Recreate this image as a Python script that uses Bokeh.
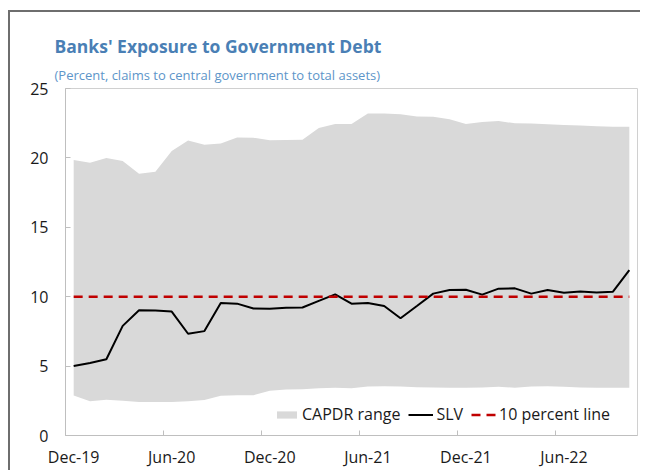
from bokeh.plotting import figure
from bokeh.layouts import column, row
from bokeh.models import Range1d, FixedTicker, Legend, LegendItem, Title, Spacer
from bokeh.embed import file_html
from bokeh.resources import INLINE

months = ["Dec-19", "Jan-20", "Feb-20", "Mar-20", "Apr-20", "May-20", "Jun-20",
          "Jul-20", "Aug-20", "Sep-20", "Oct-20", "Nov-20", "Dec-20",
          "Jan-21", "Feb-21", "Mar-21", "Apr-21", "May-21", "Jun-21",
          "Jul-21", "Aug-21", "Sep-21", "Oct-21", "Nov-21", "Dec-21",
          "Jan-22", "Feb-22", "Mar-22", "Apr-22", "May-22", "Jun-22",
          "Jul-22", "Aug-22", "Sep-22", "Oct-22"]

capdr_low = [2.89, 2.46, 2.58, 2.50, 2.41, 2.41, 2.41, 2.46, 2.55, 2.86, 2.90, 2.90,
             3.22, 3.32, 3.34, 3.41, 3.44, 3.41, 3.53, 3.55, 3.53, 3.48, 3.46, 3.44,
             3.44, 3.46, 3.51, 3.44, 3.53, 3.55, 3.51, 3.46, 3.44, 3.44, 3.44]

capdr_high = [19.84, 19.65, 20.00, 19.77, 18.86, 19.00, 20.49, 21.25, 20.94, 21.04, 21.47, 21.45,
              21.27, 21.29, 21.31, 22.16, 22.44, 22.44, 23.19, 23.19, 23.14, 22.99, 22.97, 22.78,
              22.44, 22.59, 22.66, 22.49, 22.47, 22.42, 22.37, 22.33, 22.28, 22.25, 22.25]

slv = [5.00, 5.23, 5.49, 7.90, 9.03, 9.00, 8.93, 7.33, 7.52, 9.55, 9.50, 9.15,
       9.13, 9.20, 9.22, 9.70, 10.17, 9.50, 9.55, 9.33, 8.45, 9.33, 10.22, 10.48,
       10.50, 10.15, 10.58, 10.60, 10.22, 10.48, 10.29, 10.38, 10.31, 10.36, 11.92]

threshold = 10
y_ticks = [0, 5, 10, 15, 20, 25]
label_every = 6

FONT = "Open Sans"
GREY_AX = "#bfbfbf"
EDGE = "#6e6e6e"

x = list(range(len(months)))
thr_line = [threshold] * len(months)

p = figure(width=630, height=458, output_backend="svg", toolbar_location=None,
           x_range=Range1d(-0.5, len(months) - 0.5), y_range=Range1d(0, 25),
           min_border_left=55, min_border_right=3, min_border_top=76, min_border_bottom=33)
p.background_fill_color = "white"
p.border_fill_color = "white"
p.outline_line_color = "#d0d0d0"
p.grid.visible = False

r_area = p.varea(x=x, y1=capdr_low, y2=capdr_high, fill_color="#d9d9d9")
r_slv = p.line(x, slv, line_color="black", line_width=2)
r_thr = p.line(x, thr_line, line_color="#c00000", line_width=2.5, line_dash="9 6")

label_idx = list(range(0, len(months), label_every))
minor_pos = [i - 0.5 for i in label_idx[1:]]
xa = p.xaxis[0]
xa.ticker = FixedTicker(ticks=label_idx, minor_ticks=minor_pos)
xa.major_label_overrides = {i: months[i] for i in label_idx}
xa.major_tick_line_color = None
xa.major_tick_in = 0
xa.major_tick_out = 0
xa.minor_tick_in = 5
xa.minor_tick_out = 0
xa.minor_tick_line_color = GREY_AX
xa.axis_line_color = GREY_AX
xa.major_label_text_font = FONT
xa.major_label_text_font_size = "16px"
xa.major_label_text_color = "#1a1a1a"
xa.major_label_standoff = 10

ya = p.yaxis[0]
ya.ticker = FixedTicker(ticks=y_ticks)
ya.major_tick_in = 5
ya.major_tick_out = 0
ya.major_tick_line_color = GREY_AX
ya.minor_tick_line_color = None
ya.axis_line_color = GREY_AX
ya.major_label_text_font = FONT
ya.major_label_text_font_size = "16px"
ya.major_label_text_color = "#1a1a1a"
ya.major_label_standoff = 17

legend = Legend(items=[LegendItem(label="CAPDR range", renderers=[r_area]),
                       LegendItem(label="SLV", renderers=[r_slv]),
                       LegendItem(label="10 percent line", renderers=[r_thr])],
                orientation="horizontal", location=(209, 10),
                padding=0, margin=0, spacing=8, label_standoff=3,
                glyph_width=25, glyph_height=9,
                border_line_color=None, background_fill_alpha=0,
                label_text_font=FONT, label_text_font_size="16px",
                label_text_color="#1a1a1a")
p.add_layout(legend)

subtitle = Title(text="(Percent, claims to central government to total assets)",
                 align="left", offset=-11, standoff=10,
                 text_font=FONT, text_font_size="13px", text_font_style="normal",
                 text_color="#5d95c9")
title = Title(text="Banks' Exposure to Government Debt", align="left", offset=-11,
              standoff=2, text_font=FONT, text_font_size="17.5px", text_font_style="bold",
              text_color="#4a7fb5")
p.add_layout(subtitle, "above")
p.add_layout(title, "above")

top_edge = Spacer(width=632, height=2, styles={"background-color": EDGE})
left_edge = Spacer(width=2, height=458, styles={"background-color": EDGE})
framed = column(top_edge, row(left_edge, p))
layout = column(Spacer(width=640, height=10), row(Spacer(width=8, height=460), framed))

open("out.html", "w").write(file_html(layout, INLINE))
